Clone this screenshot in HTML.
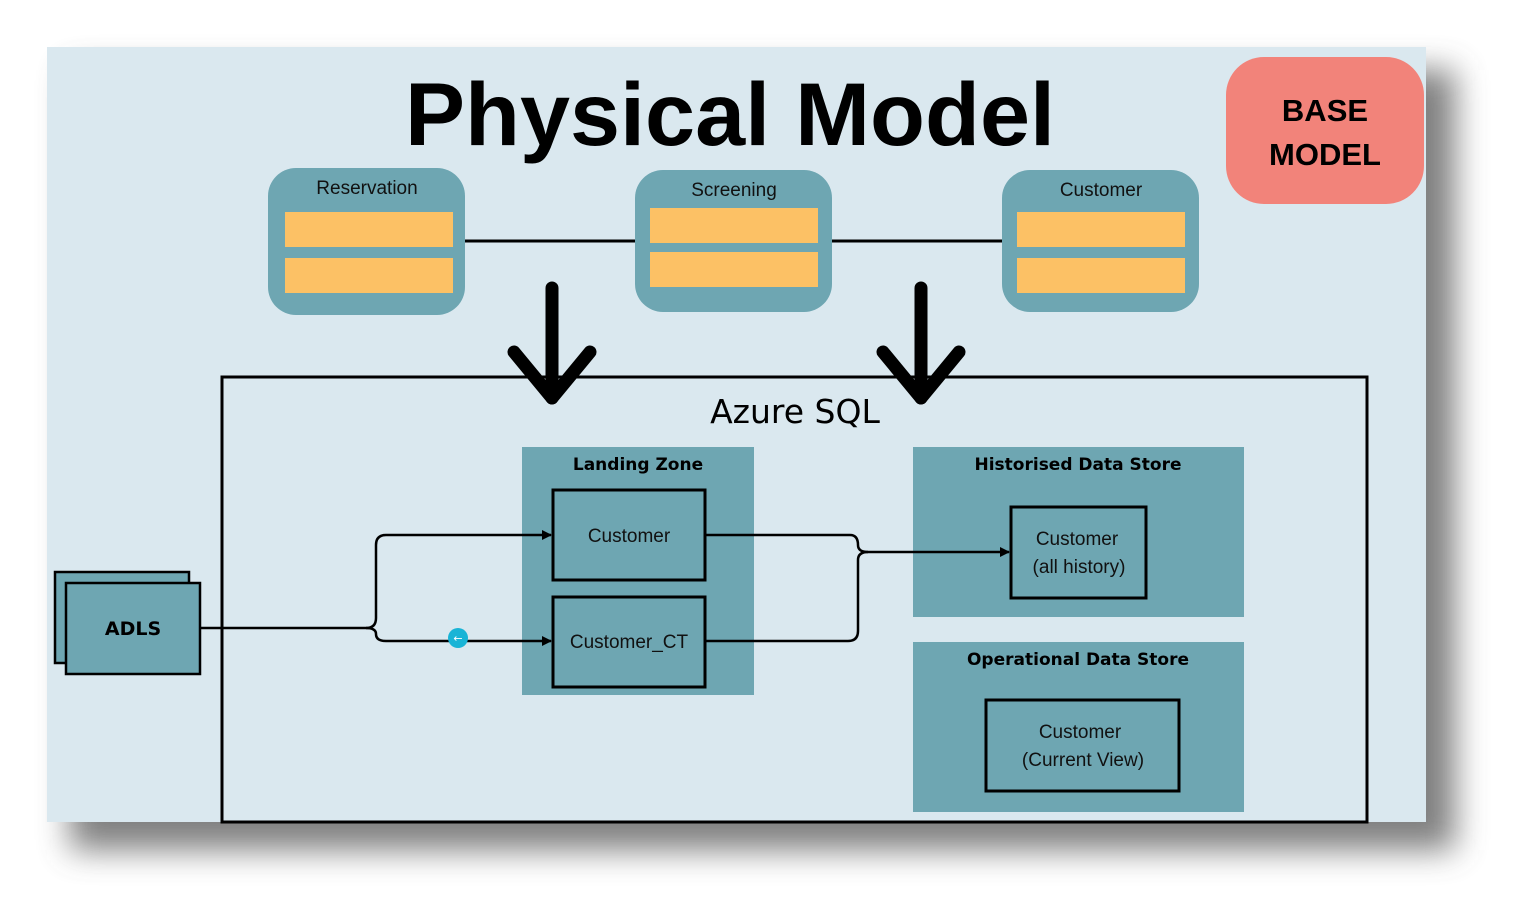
<!DOCTYPE html>
<html><head><style>
html,body{margin:0;padding:0;background:#fff;width:1521px;height:918px;overflow:hidden}
svg{display:block}
</style></head><body>
<svg width="1521" height="918" viewBox="0 0 1521 918" xmlns="http://www.w3.org/2000/svg">
<defs>
<filter id="sh" x="-10%" y="-10%" width="130%" height="130%"><feGaussianBlur stdDeviation="16"/></filter>
<marker id="ar" viewBox="0 0 10 10" refX="9" refY="5" markerWidth="4" markerHeight="4" orient="auto"><path d="M0,0 L10,5 L0,10z" fill="#000"/></marker>
</defs>
<rect x="70" y="70" width="1385" height="780" fill="#555" opacity="0.75" filter="url(#sh)"/>
<rect x="47" y="47" width="1379" height="775" fill="#dae8ef"/>
<text x="730" y="145" text-anchor="middle" font-family="Liberation Sans, sans-serif" font-weight="bold" font-size="89" textLength="650" lengthAdjust="spacingAndGlyphs">Physical Model</text>
<rect x="1226" y="57" width="198" height="147" rx="38" fill="#f2837a"/>
<text x="1325" y="121" text-anchor="middle" font-family="Liberation Sans, sans-serif" font-weight="bold" font-size="31">BASE</text>
<text x="1325" y="165" text-anchor="middle" font-family="Liberation Sans, sans-serif" font-weight="bold" font-size="31">MODEL</text>
<g stroke="#000" stroke-width="3"><line x1="465" y1="241" x2="635" y2="241"/><line x1="832" y1="241" x2="1002" y2="241"/></g>
<g font-family="Liberation Sans, sans-serif" font-size="19" text-anchor="middle" fill="#111">
<rect x="268" y="168" width="197" height="147" rx="28" fill="#6ea6b2"/>
<rect x="285" y="212" width="168" height="35" fill="#fcc165"/><rect x="285" y="258" width="168" height="35" fill="#fcc165"/>
<text x="367" y="194">Reservation</text>
<rect x="635" y="170" width="197" height="142" rx="28" fill="#6ea6b2"/>
<rect x="650" y="208" width="168" height="35" fill="#fcc165"/><rect x="650" y="252" width="168" height="35" fill="#fcc165"/>
<text x="734" y="196">Screening</text>
<rect x="1002" y="170" width="197" height="142" rx="28" fill="#6ea6b2"/>
<rect x="1017" y="212" width="168" height="35" fill="#fcc165"/><rect x="1017" y="258" width="168" height="35" fill="#fcc165"/>
<text x="1101" y="196">Customer</text>
</g>
<rect x="222" y="377" width="1145" height="445" fill="none" stroke="#000" stroke-width="3"/>
<g stroke="#000" stroke-width="13" fill="none" stroke-linecap="round" stroke-linejoin="round">
<line x1="552" y1="288" x2="552" y2="398"/><path d="M514,352 L552,398 L590,352"/>
<line x1="921" y1="288" x2="921" y2="398"/><path d="M883,352 L921,398 L959,352"/>
</g>
<text x="795" y="423" text-anchor="middle" font-family="DejaVu Sans, sans-serif" font-size="33">Azure SQL</text>
<rect x="522" y="447" width="232" height="248" fill="#6ea6b2"/>
<rect x="913" y="447" width="331" height="170" fill="#6ea6b2"/>
<rect x="913" y="642" width="331" height="170" fill="#6ea6b2"/>
<g font-family="DejaVu Sans, sans-serif" font-weight="bold" font-size="17" text-anchor="middle">
<text x="638" y="470">Landing Zone</text>
<text x="1078" y="470">Historised Data Store</text>
<text x="1078" y="665">Operational Data Store</text>
</g>
<g fill="none" stroke="#000" stroke-width="3">
<rect x="553" y="490" width="152" height="90"/>
<rect x="553" y="597" width="152" height="90"/>
<rect x="1011" y="507" width="135" height="91"/>
<rect x="986" y="700" width="193" height="91"/>
</g>
<rect x="55" y="572" width="134" height="91" fill="#6ea6b2" stroke="#000" stroke-width="2.5"/>
<rect x="66" y="583" width="134" height="91" fill="#6ea6b2" stroke="#000" stroke-width="2.5"/>
<text x="133" y="635" text-anchor="middle" font-family="DejaVu Sans, sans-serif" font-weight="bold" font-size="19">ADLS</text>
<g fill="none" stroke="#000" stroke-width="2.5">
<path d="M200,628 H366 Q376,628 376,618 V545 Q376,535 386,535 H551" marker-end="url(#ar)"/>
<path d="M366,628 Q376,628 376,634 Q376,641 386,641 H551" marker-end="url(#ar)"/>
<path d="M705,535 H850 Q858,535 858,545 Q858,552 868,552 H1009" marker-end="url(#ar)"/>
<path d="M705,641 H848 Q858,641 858,631 V560 Q858,552 868,552"/>
</g>
<circle cx="458" cy="638" r="10" fill="#19b4d6"/>
<text x="458" y="642" text-anchor="middle" font-size="11" fill="#fff" font-family="DejaVu Sans, sans-serif">←</text>
<g font-family="Liberation Sans, sans-serif" font-size="19" text-anchor="middle" fill="#111">
<text x="629" y="542">Customer</text>
<text x="629" y="648">Customer_CT</text>
<text x="1077" y="545">Customer</text>
<text x="1079" y="573">(all history)</text>
<text x="1080" y="738">Customer</text>
<text x="1083" y="766">(Current View)</text>
</g>
</svg>
</body></html>
